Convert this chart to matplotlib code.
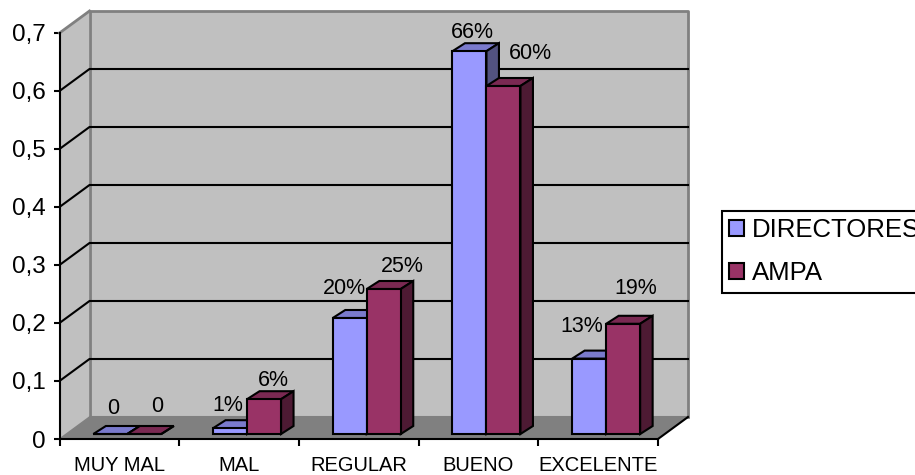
import matplotlib
matplotlib.use("Agg")
import matplotlib.pyplot as plt
from matplotlib.patches import Patch, Polygon

categories = ["MUY MAL", "MAL", "REGULAR", "BUENO", "EXCELENTE"]
directores = [0, 0.01, 0.20, 0.66, 0.13]
ampa = [0, 0.06, 0.25, 0.60, 0.19]
directores_labels = ["0", "1%", "20%", "66%", "13%"]
ampa_labels = ["0", "6%", "25%", "60%", "19%"]
y_ticks = [0, 0.1, 0.2, 0.3, 0.4, 0.5, 0.6, 0.7]
y_tick_labels = ["0", "0,1", "0,2", "0,3", "0,4", "0,5", "0,6", "0,7"]

W, H = 915, 475
PX_X = 1 / 119.7  # data units per pixel
PX_Y = 0.1 / 58

# depth of the fake 3d box and of the bars, pixels
WALL_DX, WALL_DY = 30 * PX_X, 22 * PX_Y
BAR_DX, BAR_DY = 12.5 * PX_X, 8 * PX_Y
BAR_W = 34 * PX_X
BAR_SHIFT = 8 * PX_X
BAR_BASE = 5 * PX_Y

# label offsets from the bar top centre, pixels
DIR_OFFSETS = [(3, 26), (-2, 23), (-5, 29), (3, 19), (-7, 32)]
AMPA_OFFSETS = [(13, 28), (9, 19), (19, 22), (27, 33), (13, 35)]

plt.rcParams["font.family"] = ["Liberation Sans", "DejaVu Sans"]

fig = plt.figure(figsize=(W / 100, H / 100), dpi=100)
ax = fig.add_axes([59.5 / W, 1 - 439 / H, (658 - 59.5) / W, (439 - 33) / H])
ax.set_xlim(0, 5)
ax.set_ylim(0, 0.7)
ax.patch.set_visible(False)


def box(ax, pts, fc, ec="none", lw=0, z=1):
    ax.add_patch(Polygon(pts, closed=True, fc=fc, ec=ec, lw=lw, zorder=z,
                         clip_on=False, joinstyle="miter"))


# walls and floor
box(ax, [(0, 0), (WALL_DX, WALL_DY), (WALL_DX, 0.7 + WALL_DY), (0, 0.7)], "#c0c0c0", z=1)
box(ax, [(WALL_DX, WALL_DY), (5 + WALL_DX, WALL_DY), (5 + WALL_DX, 0.7 + WALL_DY),
         (WALL_DX, 0.7 + WALL_DY)], "#c0c0c0", z=1)
box(ax, [(0, 0), (5, 0), (5 + WALL_DX, WALL_DY), (WALL_DX, WALL_DY)], "#808080", z=1)

ax.plot([WALL_DX, WALL_DX, 5 + WALL_DX, 5 + WALL_DX],
        [WALL_DY, 0.7 + WALL_DY, 0.7 + WALL_DY, WALL_DY],
        color="#808080", lw=2, zorder=2, clip_on=False)
ax.plot([0, WALL_DX], [0.7, 0.7 + WALL_DY], color="#808080", lw=2, zorder=2, clip_on=False)
ax.plot([0, WALL_DX], [0, WALL_DY], color="#808080", lw=1, zorder=2, clip_on=False)
ax.plot([WALL_DX, 5 + WALL_DX], [WALL_DY, WALL_DY], color="#808080", lw=1.5, zorder=2, clip_on=False)

# gridlines run along the side wall and across the back wall
for t in y_ticks[1:-1]:
    ax.plot([0, WALL_DX, 5 + WALL_DX], [t, t + WALL_DY, t + WALL_DY],
            color="black", lw=1.5, zorder=3, clip_on=False, solid_joinstyle="miter")
ax.plot([5, 5 + WALL_DX], [0, WALL_DY], color="black", lw=1.5, zorder=3, clip_on=False)


def draw_bars(values, lefts, front, top, side, z):
    ax.bar(lefts, values, BAR_W, bottom=BAR_BASE, align="edge", color=front,
           edgecolor="black", linewidth=1.5, zorder=z + 1, clip_on=False)
    for x, v in zip(lefts, values):
        y = BAR_BASE + v
        box(ax, [(x, y), (x + BAR_W, y), (x + BAR_W + BAR_DX, y + BAR_DY), (x + BAR_DX, y + BAR_DY)],
            top, "black", 1.5, z)
        box(ax, [(x + BAR_W, BAR_BASE), (x + BAR_W + BAR_DX, BAR_BASE + BAR_DY),
                 (x + BAR_W + BAR_DX, y + BAR_DY), (x + BAR_W, y)],
            side, "black", 1.5, z)


blue_left = [i + 0.5 + BAR_SHIFT - BAR_W for i in range(5)]
red_left = [i + 0.5 + BAR_SHIFT for i in range(5)]
draw_bars(directores, blue_left, "#9999ff", "#7a7acc", "#525280", 4)
draw_bars(ampa, red_left, "#993366", "#7a2952", "#4d1a33", 6)


def add_labels(lefts, values, labels, offsets):
    for x, v, s, off in zip(lefts, values, labels, offsets):
        ax.annotate(s, (x + BAR_W / 2, BAR_BASE + v), xytext=off, textcoords="offset pixels",
                    ha="center", va="center", fontsize=15.5, color="black",
                    zorder=10, annotation_clip=False)


add_labels(blue_left, directores, directores_labels, DIR_OFFSETS)
add_labels(red_left, ampa, ampa_labels, AMPA_OFFSETS)

# axes
for name in ("top", "right"):
    ax.spines[name].set_visible(False)
for name in ("left", "bottom"):
    ax.spines[name].set_linewidth(1.5)
    ax.spines[name].set_zorder(3.5)
ax.set_yticks(y_ticks)
ax.set_yticklabels(y_tick_labels, fontsize=17.5)
ax.set_xticks(range(6))
ax.set_xticklabels([""] * 6)
ax.set_xticks([i + 0.5 for i in range(5)], minor=True)
ax.set_xticklabels(categories, minor=True, fontsize=14.5)
ax.tick_params(axis="x", which="major", length=5, width=1.5)
ax.tick_params(axis="x", which="minor", length=0, pad=12)
ax.tick_params(axis="y", length=4, width=1.5, pad=6)

handles = [Patch(fc="#9999ff", ec="black", lw=1.5, label="DIRECTORES"),
           Patch(fc="#993366", ec="black", lw=1.5, label="AMPA")]
fig.legend(handles=handles, loc="upper left", bbox_to_anchor=(722 / W, 1 - 211 / H),
           borderaxespad=0, fontsize=18.5, frameon=True, fancybox=False, framealpha=1,
           edgecolor="black", handlelength=0.58, handleheight=0.58, handletextpad=0.3,
           labelspacing=0.75, borderpad=0.28).get_frame().set_linewidth(1.5)

fig.savefig("out.png", dpi=100)
